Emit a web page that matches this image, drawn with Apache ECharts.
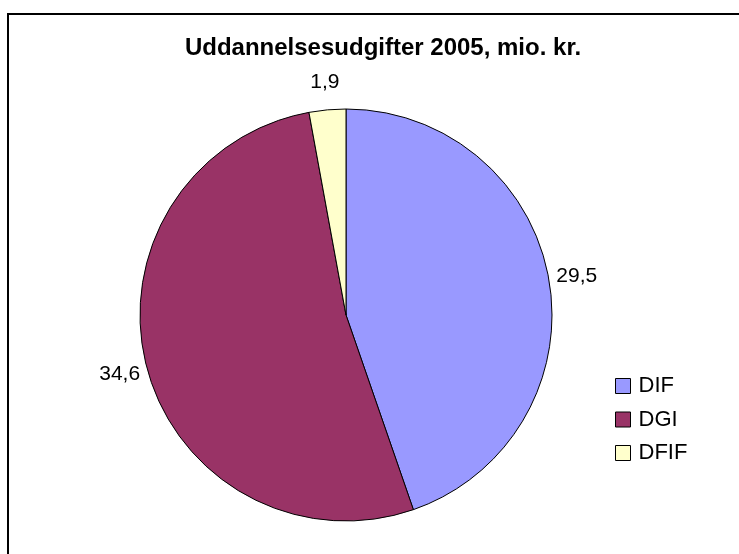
<!DOCTYPE html>
<html>
<head>
<meta charset="utf-8">
<script src="https://cdn.jsdelivr.net/npm/echarts@6/dist/echarts.min.js"></script>
<style>
  html, body { margin: 0; padding: 0; background: #fff; }
  #chart { width: 739px; height: 554px; }
</style>
</head>
<body>
<div id="chart"></div>
<script>
// data
var categories = ['DIF', 'DGI', 'DFIF'];
var values = [29.5, 34.6, 1.9];
var colors = ['#9999FF', '#993366', '#FFFFCC'];

var pieCenter = [346, 315];
var pieRadius = 206;
var labelRadius = pieRadius + 28;   // labels sit just outside the rim

var chartDom = document.getElementById('chart');
var myChart = echarts.init(chartDom);

var pieData = categories.map(function (name, i) {
  return { name: name, value: values[i], itemStyle: { color: colors[i] } };
});

// mid angle of each slice (clockwise from 12 o'clock)
var total = values.reduce(function (a, b) { return a + b; }, 0);
var midAngles = [];
var acc = 0;
values.forEach(function (v) {
  midAngles.push((acc + v / 2) / total * Math.PI * 2);
  acc += v;
});

var option = {
  backgroundColor: '#fff',
  textStyle: { fontFamily: 'Liberation Sans, Arial, sans-serif' },
  animation: false,
  // outer frame
  graphic: [{
    type: 'rect',
    shape: { x: 8, y: 14, width: 760, height: 600 },
    style: { fill: 'none', stroke: '#000', lineWidth: 2 },
    silent: true
  }],
  title: {
    text: 'Uddannelsesudgifter 2005, mio. kr.',
    left: 378,
    textAlign: 'center',
    top: 31,
    textStyle: { fontSize: 24, fontWeight: 'bold', color: '#000', fontFamily: 'Liberation Sans, Arial, sans-serif' }
  },
  legend: {
    orient: 'vertical',
    left: 610,
    top: 370,
    itemWidth: 15,
    itemHeight: 15,
    itemGap: 11.5,
    icon: 'rect',
    data: categories,
    itemStyle: { borderColor: '#000', borderWidth: 1 },
    textStyle: { fontSize: 22, color: '#000', padding: [0, 0, 0, 3] }
  },
  series: [{
    name: 'Uddannelsesudgifter',
    type: 'pie',
    center: pieCenter,
    radius: pieRadius,
    startAngle: 90,
    clockwise: true,
    itemStyle: { borderColor: '#000', borderWidth: 1 },
    label: {
      show: true,
      position: 'outside',
      fontSize: 21,
      color: '#000',
      formatter: function (p) { return String(p.value).replace('.', ','); }
    },
    labelLine: { show: false },
    labelLayout: function (params) {
      var a = midAngles[params.dataIndex];
      return {
        x: pieCenter[0] + Math.sin(a) * labelRadius,
        y: pieCenter[1] - Math.cos(a) * labelRadius,
        align: 'center',
        verticalAlign: 'middle'
      };
    },
    emphasis: { disabled: true },
    data: pieData
  }]
};

option && myChart.setOption(option);
</script>
</body>
</html>
